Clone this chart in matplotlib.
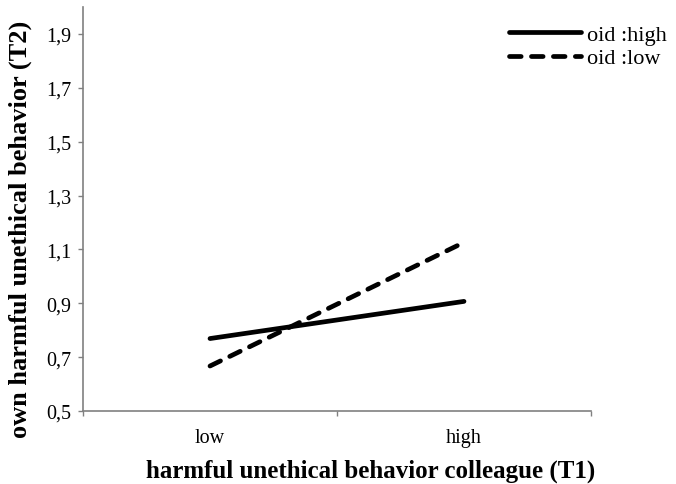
import matplotlib
matplotlib.use("Agg")
import matplotlib.pyplot as plt
from matplotlib.ticker import FixedLocator, FuncFormatter

plt.rcParams['font.family'] = ['Liberation Serif', 'DejaVu Serif']
plt.rcParams['lines.scale_dashes'] = False

categories = ["low", "high"]
series_names = ["oid :high", "oid :low"]
oid_high = [0.769, 0.907]
oid_low = [0.667, 1.126]
yticks = [0.5, 0.7, 0.9, 1.1, 1.3, 1.5, 1.7, 1.9]

W, H = 676, 485
fig = plt.figure(figsize=(W/100, H/100), dpi=100)
ax = fig.add_axes([83/W, 1-412/H, (591-83)/W, (412-8)/H])

x = [i + 0.5 for i in range(len(categories))]
ax.plot(x, oid_high, color='black', lw=3.4, solid_capstyle='round', label=series_names[0])
ax.plot(x, oid_low, color='black', lw=3.4, linestyle=(0, (8.4, 7.4)), dash_capstyle='round', label=series_names[1])

ax.set_xlim(0, len(categories))
ax.set_ylim(0.5, 2.0)
ax.yaxis.set_major_locator(FixedLocator(yticks))
ax.yaxis.set_major_formatter(FuncFormatter(lambda v, p: f"{v:.1f}".replace('.', ',')))
ax.set_xticks([0, 1, 2])
ax.set_xticklabels([])
ax.set_xticks(x, minor=True)
ax.set_xticklabels(categories, minor=True)
ax.tick_params(axis='x', which='minor', length=0, pad=12, labelsize=14.5)
ax.tick_params(axis='x', which='major', length=3.6, color='#808080', width=1)
ax.tick_params(axis='y', length=3.6, color='#808080', width=1, labelsize=14.5, pad=5)

for s in ['top', 'right']:
    ax.spines[s].set_visible(False)
for s in ['left', 'bottom']:
    ax.spines[s].set_color('#808080')
    ax.spines[s].set_linewidth(1.2)

fig.text(371/W, 1-471/H, "harmful unethical behavior colleague (T1)", fontsize=18, fontweight='bold',
         ha='center', va='center')
fig.text(20/W, 1-229/H, "own harmful unethical behavior (T2)", fontsize=19, fontweight='bold',
         ha='center', va='center', rotation=90)

leg = fig.legend(loc='upper right', bbox_to_anchor=(667/W, 1-25/H), frameon=False, fontsize=16,
                 handlelength=3.2, handletextpad=0.3, labelspacing=0.15, borderaxespad=0, borderpad=0)

fig.savefig("out.png", dpi=100)
